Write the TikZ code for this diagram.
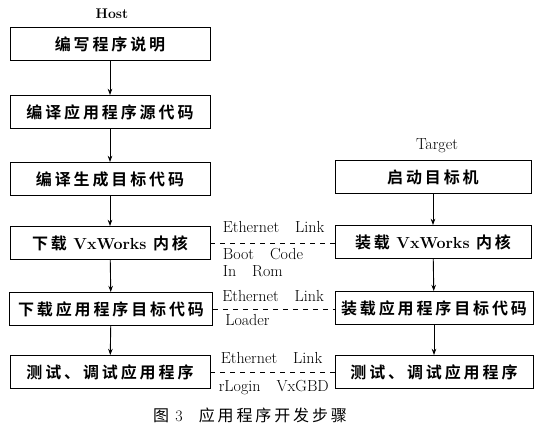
\documentclass[tikz,border=0pt]{standalone}
\usepackage{fontspec}
\newfontfamily\cjk[LetterSpace=18,BoldFont={Noto Sans CJK SC Bold}]{Noto Sans CJK SC}
\usetikzlibrary{arrows.meta}

\begin{document}
\begin{tikzpicture}[x=1pt,y=-1pt,>={Stealth[length=2.2mm,width=1.6mm]},line width=0.9pt,
  stepbox/.style={draw,minimum width=200pt,minimum height=33pt,inner sep=2pt,font=\cjk\bfseries\fontsize{16}{18}\selectfont},
  link/.style={dash pattern=on 5pt off 5pt,line width=0.7pt},
  lbl/.style={font=\fontsize{16}{17}\selectfont,inner sep=0pt,anchor=base west,pos=0}]
  \useasboundingbox (0,0) rectangle (546,436);
  % host side
  \node[font=\bfseries\fontsize{14}{16}\selectfont] (host) at (112,14) {Host};
  \node[stepbox] (h1) at (110,44) {编写程序说明};
  \node[stepbox] (h2) at (110,112) {编译应用程序源代码};
  \node[stepbox] (h3) at (110,179) {编译生成目标代码};
  \node[stepbox] (h4) at (110,243) {下载 {\rmfamily\bfseries VxWorks} 内核};
  \node[stepbox,minimum width=203pt] (h5) at (111,309) {下载应用程序目标代码};
  \node[stepbox] (h6) at (110,372) {测试、调试应用程序};
  \draw[->] (h1) -- (h2);
  \draw[->] (h2) -- (h3);
  \draw[->] (h3) -- (h4);
  \draw[->] (h4) -- (h5);
  \draw[->] (h5) -- (h6);
  % target side
  \node[font=\fontsize{16}{18}\selectfont] (target) at (437,146) {Target};
  \node[stepbox,minimum width=196pt] (t1) at (433,177) {启动目标机};
  \node[stepbox,minimum width=196pt] (t2) at (433,242) {装载 {\rmfamily\bfseries VxWorks} 内核};
  \node[stepbox,minimum width=198pt] (t3) at (434,308) {装载应用程序目标代码};
  \node[stepbox,minimum width=198pt] (t4) at (434,372) {测试、调试应用程序};
  \draw[->] (t1) -- (t2);
  \draw[->] (t2) -- (t3);
  \draw[->] (t3) -- (t4);
  % ethernet links
  \draw[link] (h4.east) -- (h4.east -| t2.west)
    node[lbl,xshift=12pt,yshift=11pt] (l1a) {Ethernet\quad Link}
    node[lbl,xshift=12pt,yshift=-16pt] (l1b) {Boot\quad Code}
    node[lbl,xshift=12pt,yshift=-33pt] (l1c) {In\quad Rom};
  \draw[link] (h5.east) -- (h5.east -| t3.west)
    node[lbl,xshift=9pt,yshift=8pt] (l2a) {Ethernet\quad Link}
    node[lbl,xshift=12pt,yshift=-16pt] (l2b) {Loader};
  \draw[link] (h6.east) -- (h6.east -| t4.west)
    node[lbl,xshift=10pt,yshift=9pt] (l3a) {Ethernet\quad Link}
    node[lbl,xshift=8pt,yshift=-19pt] (l3b) {rLogin\quad VxGBD};
  % caption
  \node[font=\cjk\fontsize{16}{18}\selectfont] (cap) at (250,415) {图 {\rmfamily 3}\quad 应用程序开发步骤};
\end{tikzpicture}
\end{document}
